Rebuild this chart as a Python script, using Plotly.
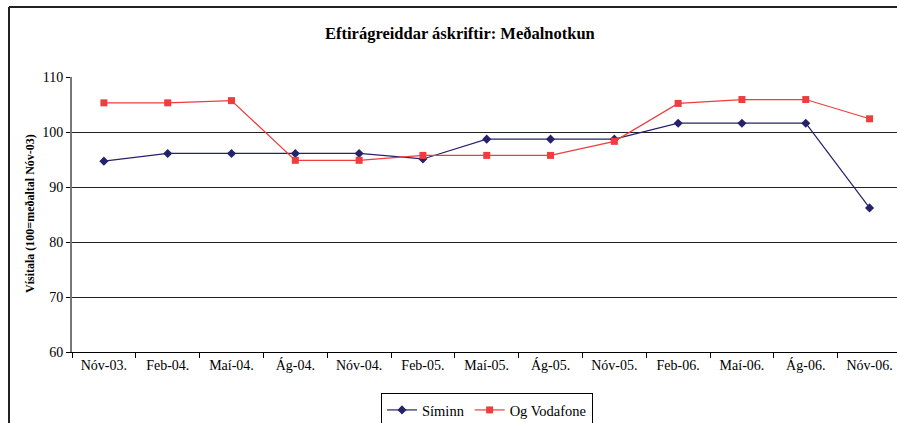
import plotly.graph_objects as go

categories = ["Nóv-03.", "Feb-04.", "Maí-04.", "Ág-04.", "Nóv-04.", "Feb-05.", "Maí-05.",
              "Ág-05.", "Nóv-05.", "Feb-06.", "Maí-06.", "Ág-06.", "Nóv-06."]
siminn = [94.7, 96.1, 96.1, 96.1, 96.1, 95.1, 98.7, 98.7, 98.7, 101.6, 101.6, 101.6, 86.2]
vodafone = [105.3, 105.3, 105.7, 94.85, 94.85, 95.75, 95.75, 95.75, 98.3, 105.2, 105.9, 105.9, 102.4]
y_ticks = [60, 70, 80, 90, 100, 110]

W, H = 897, 423
L, R, T, B = 72, 0, 77, 71
pw, ph = W - L - R, H - T - B

def px(x):
    return (x - L) / pw

def py(y):
    return (H - B - y) / ph

serif = "Liberation Serif, Times New Roman, serif"

fig = go.Figure()
fig.add_trace(go.Scatter(x=categories, y=siminn, name="Síminn", mode="lines+markers",
                         line=dict(color="#23226B", width=1.2),
                         marker=dict(symbol="diamond", size=7, color="#23226B")))
fig.add_trace(go.Scatter(x=categories, y=vodafone, name="Og Vodafone", mode="lines+markers",
                         line=dict(color="#F03C3C", width=1.2),
                         marker=dict(symbol="square", size=7, color="#F03C3C")))

fig.update_layout(
    width=W, height=H,
    margin=dict(l=L, r=R, t=T, b=B, pad=0, autoexpand=False),
    paper_bgcolor="white", plot_bgcolor="white",
    font=dict(family=serif, size=14, color="black"),
    showlegend=True,
    legend=dict(orientation="h", x=px(487), xanchor="center", y=py(393), yanchor="top",
                bordercolor="black", borderwidth=1, font=dict(family=serif, size=14.5),
                bgcolor="white", itemwidth=30, tracegroupgap=0),
    xaxis=dict(type="category", range=[-0.5, 12.43], tickson="boundaries",
               ticks="outside", ticklen=5, tickcolor="black", showgrid=False,
               showline=True, linecolor="black", linewidth=1, automargin=False,
               tickfont=dict(family=serif, size=14), fixedrange=True),
    yaxis=dict(range=[60, 110], tickvals=y_ticks, ticks="outside", ticklen=4, tickcolor="black",
               showgrid=True, gridcolor="#222222", gridwidth=1, automargin=False,
               showline=True, linecolor="#777777", linewidth=2, zeroline=False,
               tickfont=dict(family=serif, size=14), fixedrange=True),
    annotations=[
        dict(text="<b>Eftirágreiddar áskriftir: Meðalnotkun</b>", xref="paper", yref="paper",
             x=px(460), y=py(33), xanchor="center", yanchor="middle", showarrow=False,
             font=dict(family=serif, size=16.5)),
        dict(text="<b>Vísitala (100=meðaltal Nóv-03)</b>", xref="paper", yref="paper",
             x=px(30), y=py(214), xanchor="center", yanchor="middle", showarrow=False,
             textangle=-90, font=dict(family=serif, size=12)),
    ],
    shapes=[
        dict(type="line", xref="paper", yref="paper", x0=px(9), x1=px(9), y0=py(430), y1=py(7),
             line=dict(color="#222222", width=2)),
        dict(type="line", xref="paper", yref="paper", x0=px(9), x1=px(900), y0=py(7), y1=py(7),
             line=dict(color="#222222", width=2)),
    ],
)

fig.write_html("out.html", config=dict(displayModeBar=False),
               post_script="document.body.style.margin='0';document.body.style.overflow='hidden';")
